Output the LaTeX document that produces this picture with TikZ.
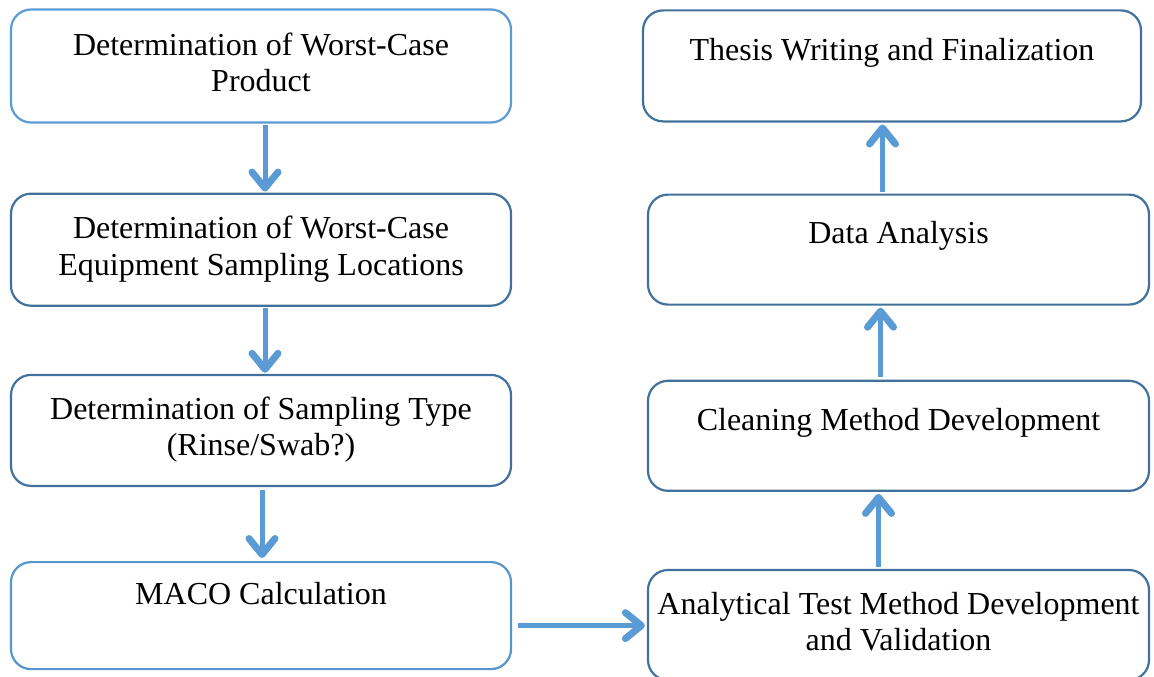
\documentclass[tikz,border=0pt]{standalone}
\usepackage{fontspec}
\setmainfont{Liberation Serif}
\usetikzlibrary{positioning,arrows.meta}
\definecolor{lightframe}{HTML}{5B9BD5}
\definecolor{darkframe}{HTML}{41719C}
\definecolor{arrowblue}{HTML}{5B9BD5}
\tikzset{
    stepbox/.style={shape=rectangle, draw=darkframe, line width=2.2pt, rounded corners=20pt, align=center, minimum width=500pt, minimum height=112pt, inner sep=0pt, font=\fontsize{32}{36.5}\selectfont},
    flowarrow/.style={draw=arrowblue, line width=5pt, -{Straight Barb[length=16pt, width=26pt, line width=0pt 1.4 1, round]}}
}
\begin{document}
\begin{tikzpicture}[x=1pt, y=1pt, node distance=70pt]
    \useasboundingbox (0,0) rectangle (1154,-677);
    \begin{scope}
        \node[stepbox, draw=lightframe, minimum height=113pt] (worstproduct) at (261,-66) {\strut Determination of Worst-Case\\\strut Product};
        \node[stepbox] (worstlocations) [below=69pt of worstproduct] {\strut Determination of Worst-Case\\\strut Equipment Sampling Locations};
        \node[stepbox, minimum height=111pt] (samplingtype) [below=67pt of worstlocations] {\strut Determination of Sampling Type\\\strut (Rinse/Swab?)};
        \node[stepbox, draw=lightframe!85!darkframe, minimum height=107pt] (maco) [below=74pt of samplingtype] {\strut MACO Calculation\\\strut};
    \end{scope}
    \begin{scope}
        \node[stepbox, minimum width=501pt, minimum height=110pt] (analytical) at (898.5,-625) {\strut Analytical Test Method Development\\\strut and Validation};
        \node[stepbox, minimum width=501pt, minimum height=110pt] (cleaning) [above=77pt of analytical] {\strut\\[-26pt]\strut Cleaning Method Development\\\strut};
        \node[stepbox, minimum width=501pt, minimum height=110pt] (dataanalysis) [above=74pt of cleaning] {\strut\\[-26pt]\strut Data Analysis\\\strut};
        \node[stepbox, minimum width=498pt, minimum height=111pt, xshift=-6.5pt] (thesis) [above=71pt of dataanalysis] {\strut\\[-26pt]\strut Thesis Writing and Finalization\\\strut};
    \end{scope}
    \draw[flowarrow, shorten <=1pt, shorten >=1pt] ([xshift=4pt]worstproduct.south) -- ([xshift=4pt]worstproduct.south |- worstlocations.north);
    \draw[flowarrow, shorten <=1pt, shorten >=1pt] ([xshift=4pt]worstlocations.south) -- ([xshift=4pt]worstlocations.south |- samplingtype.north);
    \draw[flowarrow, shorten <=3pt, shorten >=3pt] ([xshift=1pt]samplingtype.south) -- ([xshift=1pt]samplingtype.south |- maco.north);
    \draw[flowarrow, shorten <=6pt, shorten >=2pt] ([yshift=-10pt]maco.east) -- ([yshift=-10pt]maco.east -| analytical.west);
    \draw[flowarrow, shorten <=2pt, shorten >=2pt] ([xshift=-20pt]analytical.north) -- ([xshift=-20pt]analytical.north |- cleaning.south);
    \draw[flowarrow, shorten <=3pt, shorten >=2pt] ([xshift=-18pt]cleaning.north) -- ([xshift=-18pt]cleaning.north |- dataanalysis.south);
    \draw[flowarrow, shorten <=2pt, shorten >=2pt] ([xshift=-16pt]dataanalysis.north) -- ([xshift=-16pt]dataanalysis.north |- thesis.south);
\end{tikzpicture}
\end{document}
